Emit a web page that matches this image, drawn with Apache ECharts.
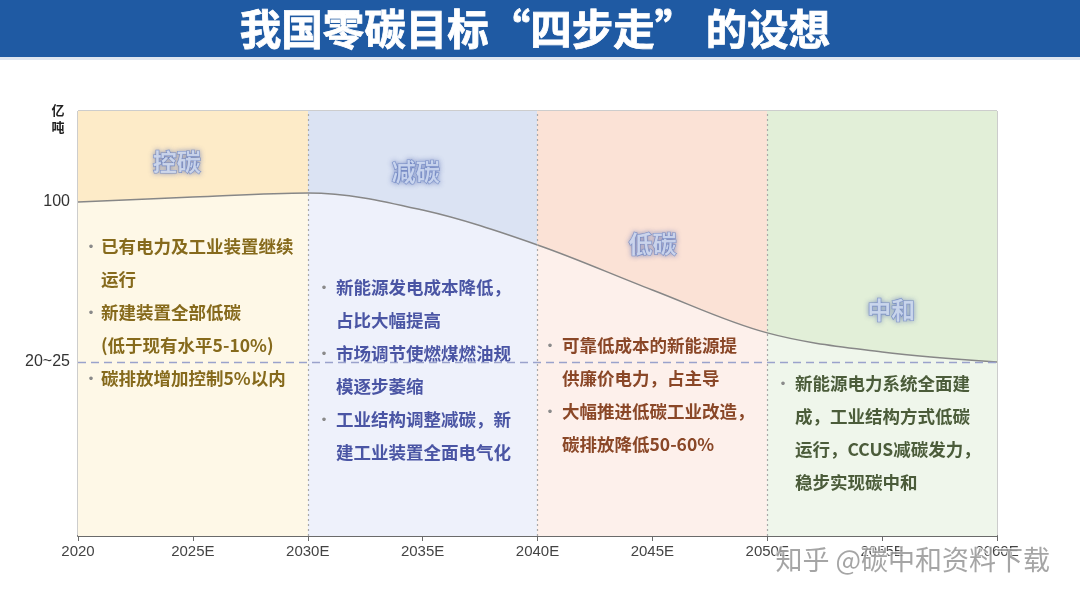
<!DOCTYPE html>
<html><head><meta charset="utf-8">
<script src="https://cdn.jsdelivr.net/npm/echarts@6/dist/echarts.min.js"></script>
<style>html,body{margin:0;padding:0;background:#fff}#c{width:1080px;height:605px}</style>
</head><body><div id="c"></div>
<script>
// ---- data ----
const years = [2020, 2025, 2030, 2035, 2040, 2045, 2050, 2055, 2060];
const xTickLabels = ['2020', '2025E', '2030E', '2035E', '2040E', '2045E', '2050E', '2055E', '2060E'];
const emissions = [100, 102.4, 104.4, 96.1, 79.2, 57.4, 36.6, 27.4, 22.5];
const yTickValues = [100, 22.5];
const yTickLabels = ['100', '20~25'];
const stageNames = ['控碳', '减碳', '低碳', '中和'];
const stageBounds = [2020, 2030, 2040, 2050, 2060];
const stageLabelPos = [[2024.3, 119.4], [2034.7, 114.5], [2045.0, 79.7], [2055.4, 47.7]];
const notes1 = [['•', '已有电力及工业装置继续'], ['', '运行'], ['•', '新建装置全部低碳'], ['', '(低于现有水平5-10%)'], ['•', '碳排放增加控制5%以内']];
const notes2 = [['•', '新能源发电成本降低，'], ['', '占比大幅提高'], ['•', '市场调节使燃煤燃油规'], ['', '模逐步萎缩'], ['•', '工业结构调整减碳，新'], ['', '建工业装置全面电气化']];
const notes3 = [['•', '可靠低成本的新能源提'], ['', '供廉价电力，占主导'], ['•', '大幅推进低碳工业改造，'], ['', '碳排放降低50-60%']];
const notes4 = [['•', '新能源电力系统全面建'], ['', '成，工业结构方式低碳'], ['', '运行，CCUS减碳发力，'], ['', '稳步实现碳中和']];
const titleText = '我国零碳目标“四步走” 的设想';
const unitText = '亿\n吨';
const watermark = '知乎 @碳中和资料下载';

// ---- styles ----
const upperColors = ['#fdebc8', '#dbe3f3', '#fbe2d6', '#e2efd8'];
const lowerColors = ['#fef8e7', '#eef1fb', '#fdf0eb', '#eff6eb'];
const noteColors = ['#866a1c', '#4a55a4', '#8a4727', '#4b5c3a'];
const FONT = '"Noto Sans CJK SC", "Noto Sans", sans-serif';

function bandGradient(colors) {
  const stops = [];
  const n = colors.length;
  colors.forEach((c, i) => {
    stops.push({ offset: i / n, color: c });
    stops.push({ offset: (i + 1) / n, color: c });
  });
  return { type: 'linear', x: 0, y: 0, x2: 1, y2: 0, colorStops: stops };
}

const chart = echarts.init(document.getElementById('c'));
const seriesData = years.map((y, i) => [y, emissions[i]]);

const graphics = [
  { type: 'rect', shape: { x: 0, y: 0, width: 1080, height: 57 }, style: { fill: '#1f5aa3' }, z: 10 },
  { type: 'rect', shape: { x: 0, y: 57, width: 1080, height: 3 }, style: { fill: '#dfe6f0' }, z: 10 },
  { type: 'text', x: 535, y: 29, z: 11, style: { text: titleText, fill: '#ffffff', font: 'bold 41.5px ' + FONT, stroke: '#ffffff', lineWidth: 0.8, align: 'center', verticalAlign: 'middle', textAlign: 'center', textVerticalAlign: 'middle' } },
  { type: 'text', x: 58, y: 119, z: 11, style: { text: unitText, fill: '#222', font: 'bold 13px ' + FONT, lineHeight: 17, align: 'center', verticalAlign: 'middle', textAlign: 'center', textVerticalAlign: 'middle' } }
];

function addNotes(notes, bx, tx, y0, color) {
  notes.forEach((n, i) => {
    const y = y0 + i * 33;
    if (n[0]) graphics.push({ type: 'text', x: bx, y: y, z: 11, style: { text: n[0], fill: '#8a8a8a', font: 'bold 14px ' + FONT, align: 'center', verticalAlign: 'middle', textAlign: 'center', textVerticalAlign: 'middle' } });
    graphics.push({ type: 'text', x: tx, y: y, z: 11, style: { text: n[1], fill: color, font: 'bold 17.5px ' + FONT, align: 'left', verticalAlign: 'middle', textAlign: 'left', textVerticalAlign: 'middle' } });
  });
}
addNotes(notes1, 91, 101, 246, noteColors[0]);
addNotes(notes2, 324, 336, 287, noteColors[1]);
addNotes(notes3, 550, 562, 345, noteColors[2]);
addNotes(notes4, 783, 795, 383, noteColors[3]);
graphics.push({ type: 'text', x: 1050, y: 560, z: 20, style: { text: watermark, fill: 'rgba(105,105,105,0.6)', stroke: 'rgba(255,255,255,0.7)', lineWidth: 2, font: '27px ' + FONT, align: 'right', verticalAlign: 'middle', textAlign: 'right', textVerticalAlign: 'middle' } });

chart.setOption({
  animation: false,
  backgroundColor: '#ffffff',
  grid: { left: 78, right: 83, top: 111, bottom: 69, show: true, borderColor: '#9a9a9a', borderWidth: 1, backgroundColor: 'transparent' },
  xAxis: {
    type: 'value', min: 2020, max: 2060, interval: 5,
    axisLine: { show: true, onZero: false, lineStyle: { color: '#6a6a6a', width: 2 } },
    axisTick: { show: true, length: 5, lineStyle: { color: '#6a6a6a' } },
    axisLabel: { color: '#444', fontSize: 15, fontFamily: 'Liberation Sans, Arial, sans-serif', margin: 8,
      formatter: v => xTickLabels[years.indexOf(v)] || '' },
    splitLine: { show: false }
  },
  yAxis: {
    type: 'value', min: -61.8, max: 144.1,
    axisLine: { show: false }, axisTick: { show: false }, splitLine: { show: false },
    axisLabel: { customValues: yTickValues, color: '#333', fontSize: 16, fontFamily: 'Liberation Sans, Arial, sans-serif', margin: 8,
      formatter: v => { const i = yTickValues.indexOf(v); return i >= 0 ? yTickLabels[i] : ''; } }
  },
  graphic: graphics,
  series: [
    { type: 'line', data: seriesData, smooth: 0.35, symbol: 'none', lineStyle: { width: 0 },
      areaStyle: { origin: 'start', color: bandGradient(lowerColors), opacity: 1 }, z: 1, silent: true },
    { type: 'line', data: seriesData, smooth: 0.35, symbol: 'none', lineStyle: { width: 0 },
      areaStyle: { origin: 'end', color: bandGradient(upperColors), opacity: 1 }, z: 1, silent: true },
    { type: 'line', data: seriesData, smooth: 0.35, symbol: 'none', lineStyle: { width: 1.5, color: '#878787' }, z: 3,
      markLine: { silent: true, symbol: 'none', label: { show: false },
        data: [
          ...stageBounds.slice(1, 4).map(b => ({ xAxis: b, lineStyle: { type: [2, 3], color: '#a8a8a8', width: 1.2 } })),
          { yAxis: yTickValues[1], lineStyle: { type: [8, 5], color: '#9aa2cc', width: 1.3 } }
        ] } },
    { type: 'scatter', data: stageLabelPos.map((p, i) => ({ value: p, name: stageNames[i] })), symbolSize: 0, z: 5,
      label: { show: true, position: 'inside', formatter: p => p.name, fontSize: 24, fontFamily: FONT, fontWeight: 'bold',
        color: '#d3def4', textBorderColor: '#7088c4', textBorderWidth: 1.2, textShadowColor: 'rgba(90,110,180,0.7)', textShadowBlur: 5 } }
  ]
});
</script></body></html>
